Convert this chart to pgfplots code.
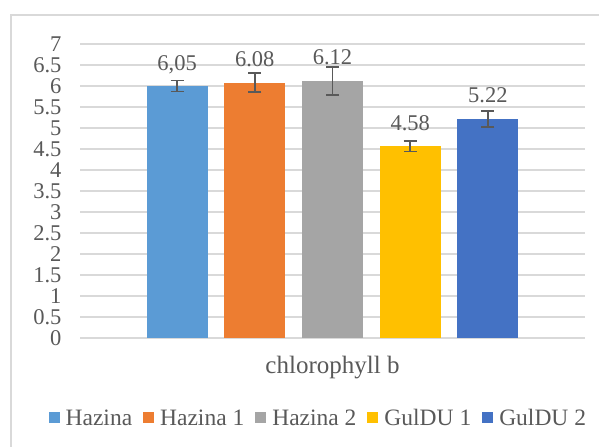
\documentclass[border=0pt]{standalone}
\usepackage{fontspec}
\setmainfont{Liberation Serif}
\usepackage{pgfplots}
\pgfplotsset{compat=1.18}

\definecolor{cA}{HTML}{5B9BD5}
\definecolor{cB}{HTML}{ED7D31}
\definecolor{cC}{HTML}{A5A5A5}
\definecolor{cD}{HTML}{FFC000}
\definecolor{cE}{HTML}{4472C4}
\definecolor{txt}{HTML}{595959}
\definecolor{gridc}{HTML}{D9D9D9}
\definecolor{errc}{HTML}{595959}
\newcommand\cf{\fontsize{22.5bp}{27bp}\selectfont}

\begin{document}
\begin{tikzpicture}
\useasboundingbox (0,0) rectangle (599bp,447bp);
\draw[gridc, line width=1.5bp] (11bp,0) -- (11bp,432bp) -- (599bp,432bp);
\begin{axis}[
    at={(80bp,109bp)}, anchor=south west,
    scale only axis, width=505bp, height=294bp,
    xmin=-0.25, xmax=6.25, ymin=0, ymax=7,
    ytick={0,0.5,1,1.5,2,2.5,3,3.5,4,4.5,5,5.5,6,6.5,7},
    xtick={3}, xticklabels={chlorophyll b},
    ymajorgrids, grid style={gridc, line width=1.5bp},
    axis line style={draw=none}, major tick length=0pt,
    yticklabel style={font=\cf, text=txt, xshift=-15bp,
        /pgf/number format/assume math mode=true},
    xticklabel style={font=\fontsize{25bp}{30bp}\selectfont, text=txt, yshift=-15bp},
    ybar, bar width=61bp,
    every axis plot/.append style={draw=none, bar shift=0pt},
    error bars/y dir=both, error bars/y explicit,
    error bars/error bar style={line width=1.8bp, errc},
    error bars/error mark options={rotate=90, mark size=6.5bp, line width=1.8bp, errc},
    nodes near coords, point meta=explicit symbolic,
    every node near coord/.append style={font=\cf, text=txt, anchor=base, yshift=16bp},
    legend style={draw=none, fill=none, at={(0.472,-0.272)}, anchor=center,
        font=\fontsize{23.5bp}{28bp}\selectfont, text=txt, legend columns=5,
        /tikz/every odd column/.append style={column sep=4bp},
        /tikz/every even column/.append style={column sep=9bp}},
    legend image code/.code={\fill[#1, draw=none] (0bp,-5.5bp) rectangle (11bp,5.5bp);},
]
\addplot[fill=cA, bar shift=0pt] coordinates {(1,6.00) +- (0,0.13) [6,05]};
\addplot[fill=cB, bar shift=0pt] coordinates {(2,6.08) +- (0,0.23) [6.08]};
\addplot[fill=cC, bar shift=0pt] coordinates {(3,6.12) +- (0,0.34) [6.12]};
\addplot[fill=cD, bar shift=0pt] coordinates {(4,4.57) +- (0,0.13) [4.58]};
\addplot[fill=cE, bar shift=0pt] coordinates {(5,5.22) +- (0,0.19) [5.22]};
\legend{Hazina, Hazina 1, Hazina 2, GulDU 1, GulDU 2}
\end{axis}
\end{tikzpicture}
\end{document}
